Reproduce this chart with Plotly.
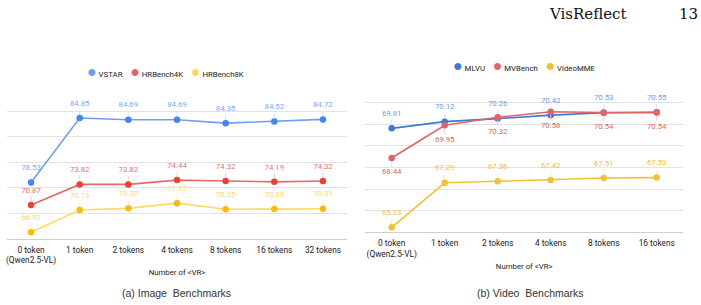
import plotly.graph_objects as go

# ---------------- data ----------------
img_cats = ["0 token<br>(Qwen2.5-VL)", "1 token", "2 tokens", "4 tokens", "8 tokens", "16 tokens", "32 tokens"]
vstar = [78.53, 84.85, 84.69, 84.69, 84.35, 84.52, 84.72]
hrbench4k = [70.87, 73.82, 73.82, 74.44, 74.32, 74.19, 74.32]
hrbench8k = [66.92, 70.13, 70.37, 71.12, 70.25, 70.28, 70.31]

vid_cats = ["0 token<br>(Qwen2.5-VL)", "1 token", "2 tokens", "4 tokens", "8 tokens", "16 tokens"]
mlvu = [69.81, 70.12, 70.26, 70.42, 70.53, 70.55]
mvbench = [68.44, 69.95, 70.32, 70.58, 70.54, 70.54]
videomme = [65.23, 67.29, 67.36, 67.42, 67.51, 67.53]

W, H = 701, 305
FONT = "Roboto"
LBL = 7.8

# axis ranges
Y_HR = [66, 88]
Y_VS = [73, 88]
Y_VID = [65, 72]


def px_x(p):
    return p / W


def px_y(p):
    return 1 - p / H


left_px = (6.7, 347.3, 86.0, 238.7)     # x0, x1, ytop, ybottom
right_px = (365.2, 683.2, 81.0, 232.3)

fig = go.Figure()

LEADER = 8.5  # px length of label connector


def add_series(x, y, name, xa, ya, yrange, plot_h, line_c, mark_c, text_c, lead_c, below=False):
    n = len(y)
    per_px = (yrange[1] - yrange[0]) / plot_h
    L = LEADER * per_px
    # label trace (invisible spacer marker, connector via error bars)
    fig.add_trace(go.Scatter(
        x=x, y=y, name=name + " labels", xaxis=xa, yaxis=ya, mode="markers+text",
        marker=dict(color=mark_c, size=15, opacity=0),
        text=[f"{v:.2f}" for v in y],
        textposition="bottom center" if below else "top center",
        textfont=dict(family=FONT, size=LBL, color=text_c),
        error_y=dict(type="data", symmetric=False,
                     array=[0] * n if below else [L] * n,
                     arrayminus=[L] * n if below else [0] * n,
                     color=lead_c, thickness=1, width=0),
        showlegend=False, cliponaxis=False, hoverinfo="skip",
    ))
    fig.add_trace(go.Scatter(
        x=x, y=y, name=name, xaxis=xa, yaxis=ya, mode="lines+markers",
        line=dict(color=line_c, width=1.6),
        marker=dict(color=mark_c, size=6.5),
        showlegend=False, cliponaxis=False,
    ))


lh = left_px[3] - left_px[2]
rh = right_px[3] - right_px[2]
# left chart
add_series(img_cats, vstar, "VSTAR", "x", "y2", Y_VS, lh, "#6fa0f0", "#4285f4", "#7baaf7", "#d4e2fa")
add_series(img_cats, hrbench4k, "HRBench4K", "x", "y", Y_HR, lh, "#e46b6b", "#ea4335", "#e57373", "#f5d0cd")
add_series(img_cats, hrbench8k, "HRBench8K", "x", "y", Y_HR, lh, "#ffd966", "#fbbc04", "#ffd666", "#fbeac0")
# right chart
add_series(vid_cats, mlvu, "MLVU", "x2", "y3", Y_VID, rh, "#3c78d8", "#3c78d8", "#6d9eeb", "#d4e2fa")
add_series(vid_cats, mvbench, "MVBench", "x2", "y3", Y_VID, rh, "#e06666", "#e06666", "#e06666", "#f5d0cd", below=True)
add_series(vid_cats, videomme, "VideoMME", "x2", "y3", Y_VID, rh, "#f1c232", "#f1c232", "#f1c232", "#fbeac0")

grid = "#e3e3e3"
base = "#cfcfcf"
tickfont = dict(family=FONT, size=8.3, color="#222222")
titlefont = dict(family=FONT, size=7.8, color="#222222")

fig.update_layout(
    width=W, height=H, margin=dict(l=0, r=0, t=0, b=0),
    paper_bgcolor="white", plot_bgcolor="white",
    xaxis=dict(domain=[px_x(left_px[0]), px_x(left_px[1])], anchor="y", type="category", range=[-0.5, 6.5],
               showgrid=False, showline=True, linecolor=base, linewidth=1,
               ticks="", tickfont=tickfont, ticklabelstandoff=3, automargin=False,
               title=dict(text="Number of &lt;VR&gt;", font=titlefont, standoff=4)),
    yaxis=dict(domain=[px_y(left_px[3]), px_y(left_px[2])], anchor="x", range=Y_HR,
               tickmode="linear", tick0=Y_HR[0], dtick=(Y_HR[1] - Y_HR[0]) / 6,
               showgrid=True, gridcolor=grid, gridwidth=1, zeroline=False,
               showticklabels=False, ticks="", automargin=False),
    yaxis2=dict(overlaying="y", anchor="x", range=Y_VS, showgrid=False, zeroline=False,
                showticklabels=False, ticks="", automargin=False),
    xaxis2=dict(domain=[px_x(right_px[0]), px_x(right_px[1])], anchor="y3", type="category", range=[-0.5, 5.5],
                showgrid=False, showline=True, linecolor=base, linewidth=1,
                ticks="", tickfont=tickfont, ticklabelstandoff=3, automargin=False,
                title=dict(text="Number of &lt;VR&gt;", font=titlefont, standoff=4)),
    yaxis3=dict(domain=[px_y(right_px[3]), px_y(right_px[2])], anchor="x2", range=Y_VID,
                tickmode="linear", tick0=Y_VID[0], dtick=1,
                showgrid=True, gridcolor=grid, gridwidth=1, zeroline=False,
                showticklabels=False, ticks="", automargin=False),
)


def legend_text(items):
    parts = []
    for name, col in items:
        parts.append(f"<span style='color:{col};font-size:16px'>●</span>\u00a0{name}")
    return "\u00a0\u00a0\u00a0\u00a0".join(parts)


ann = [
    dict(text=legend_text([("VSTAR", "#6d9eeb"), ("HRBench4K", "#e06666"), ("HRBench8K", "#ffd966")]),
         x=px_x(165), y=px_y(71), font=dict(family=FONT, size=7.8, color="#222222")),
    dict(text=legend_text([("MLVU", "#3c78d8"), ("MVBench", "#e06666"), ("VideoMME", "#f1c232")]),
         x=px_x(524), y=px_y(66), font=dict(family=FONT, size=7.8, color="#222222")),
    dict(text="(a) Image\u00a0 Benchmarks", x=px_x(176), y=px_y(292.5),
         font=dict(family="Liberation Sans", size=10.5, color="#333333")),
    dict(text="(b) Video\u00a0 Benchmarks", x=px_x(530), y=px_y(292.5),
         font=dict(family="Liberation Sans", size=10.5, color="#333333")),
    dict(text="VisReflect", x=px_x(588), y=px_y(13.5),
         font=dict(family="DejaVu Serif", size=15, color="#111111")),
    dict(text="13", x=px_x(688.5), y=px_y(13.5),
         font=dict(family="DejaVu Serif", size=15, color="#111111")),
]
for a in ann:
    a.update(xref="paper", yref="paper", xanchor="center", yanchor="middle", showarrow=False)
fig.update_layout(annotations=ann)

fig.write_html("out.html")
